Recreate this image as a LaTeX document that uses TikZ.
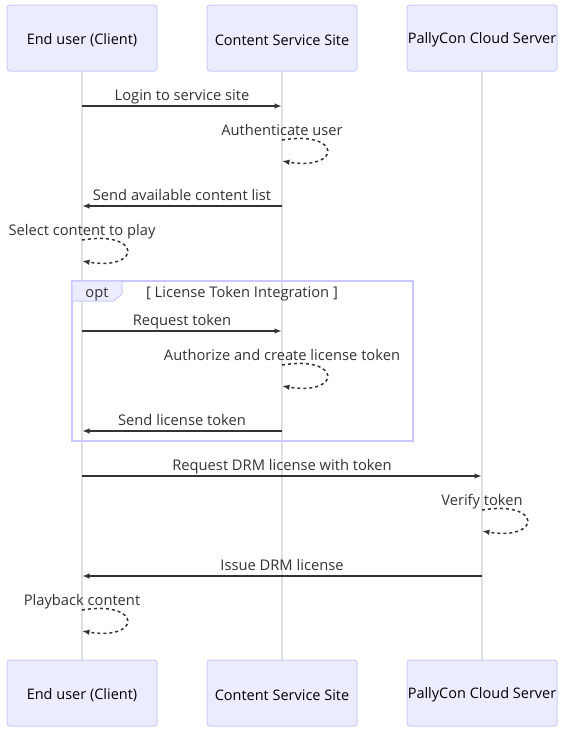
\documentclass[tikz,border=0pt]{standalone}
\usepackage{fontspec}
\setmainfont{Open Sans}
\usetikzlibrary{arrows.meta}
\definecolor{actfill}{HTML}{ECECFF}
\definecolor{actdraw}{HTML}{CCCCFF}
\definecolor{life}{HTML}{E0E0E0}
\definecolor{ink}{HTML}{333333}
\definecolor{optdraw}{HTML}{C8C8FF}
\newcommand{\actortext}[1]{\raisebox{-2pt}[\height][\depth]{#1}}
\begin{document}
\begin{tikzpicture}[x=1pt,y=-1pt,
  actor/.style={draw=actdraw, fill=actfill, rounded corners=3pt, minimum width=150pt, minimum height=66pt, inner sep=0pt, font=\fontsize{14.5}{17}\selectfont, text=black, line width=1pt},
  lifeline/.style={draw=life, line width=1.5pt},
  msg/.style={draw=ink, line width=1.5pt, -{Latex[length=7.5pt,width=5.5pt]}},
  selfmsg/.style={draw=ink, line width=1.5pt, dash pattern=on 3pt off 3pt, -{Latex[length=7.5pt,width=5.5pt]}},
  lbl/.style={font=\fontsize{14.7}{17}\selectfont, text=ink, anchor=base, inner sep=0pt},
  optbox/.style={draw=optdraw, line width=1.5pt},
  opttab/.style={draw=optdraw, fill=actfill, line width=1pt}]
\useasboundingbox (0,0) rectangle (566,737);
\fill[white] (0,0) rectangle (566,737);

% actors
\node[actor] (a1t) at (82,38) {\actortext{End user (Client)}};
\node[actor] (a2t) at (282,38) {\actortext{Content Service Site}};
\node[actor] (a3t) at (482,38) {\actortext{PallyCon Cloud Server}};
\node[actor] (a1b) at (82,693) {\actortext{End user (Client)}};
\node[actor] (a2b) at (282,693) {\actortext{Content Service Site}};
\node[actor] (a3b) at (482,693) {\actortext{PallyCon Cloud Server}};

% lifelines
\draw[lifeline] (a1t.south) -- (a1b.north);
\draw[lifeline] (a2t.south) -- (a2b.north);
\draw[lifeline] (a3t.south) -- (a3b.north);

% opt frame
\draw[optbox] (72,281) rectangle (413,441);
\draw[opttab] (72,281) -- (122,281) -- (122,294) -- (113.6,301) -- (72,301) -- cycle;
\node[lbl] (optl) at (97,297) {opt};
\node[lbl] (optt) at (242,297) {[ License Token Integration ]};

% messages
\coordinate (m1s) at (82,106); \coordinate (m1e) at (282,106);
\draw[msg] (m1s) -- (m1e);
\node[lbl] (l1) at (182,100) {Login to service site};

\coordinate (s1) at (282,140); \coordinate (s1e) at (282,161);
\draw[selfmsg] (s1) .. controls +(60,-10) and +(60,10) .. (s1e);
\node[lbl] (l2) at (282,135) {Authenticate user};

\coordinate (m2s) at (282,206); \coordinate (m2e) at (82,206);
\draw[msg] (m2s) -- (m2e);
\node[lbl] (l3) at (182,200) {Send available content list};

\coordinate (s2) at (82,240); \coordinate (s2e) at (82,261);
\draw[selfmsg] (s2) .. controls +(60,-10) and +(60,10) .. (s2e);
\node[lbl] (l4) at (82,235) {Select content to play};

\coordinate (m3s) at (82,331); \coordinate (m3e) at (282,331);
\draw[msg] (m3s) -- (m3e);
\node[lbl] (l5) at (182,325) {Request token};

\coordinate (s3) at (282,365); \coordinate (s3e) at (282,386);
\draw[selfmsg] (s3) .. controls +(60,-10) and +(60,10) .. (s3e);
\node[lbl] (l6) at (282,360) {Authorize and create license token};

\coordinate (m4s) at (282,431); \coordinate (m4e) at (82,431);
\draw[msg] (m4s) -- (m4e);
\node[lbl] (l7) at (182,425) {Send license token};

\coordinate (m5s) at (82,476); \coordinate (m5e) at (482,476);
\draw[msg] (m5s) -- (m5e);
\node[lbl] (l8) at (282,470) {Request DRM license with token};

\coordinate (s4) at (482,510); \coordinate (s4e) at (482,531);
\draw[selfmsg] (s4) .. controls +(60,-10) and +(60,10) .. (s4e);
\node[lbl] (l9) at (482,505) {Verify token};

\coordinate (m6s) at (482,576); \coordinate (m6e) at (82,576);
\draw[msg] (m6s) -- (m6e);
\node[lbl] (l10) at (282,570) {Issue DRM license};

\coordinate (s5) at (82,610); \coordinate (s5e) at (82,631);
\draw[selfmsg] (s5) .. controls +(60,-10) and +(60,10) .. (s5e);
\node[lbl] (l11) at (82,605) {Playback content};
\end{tikzpicture}
\end{document}
